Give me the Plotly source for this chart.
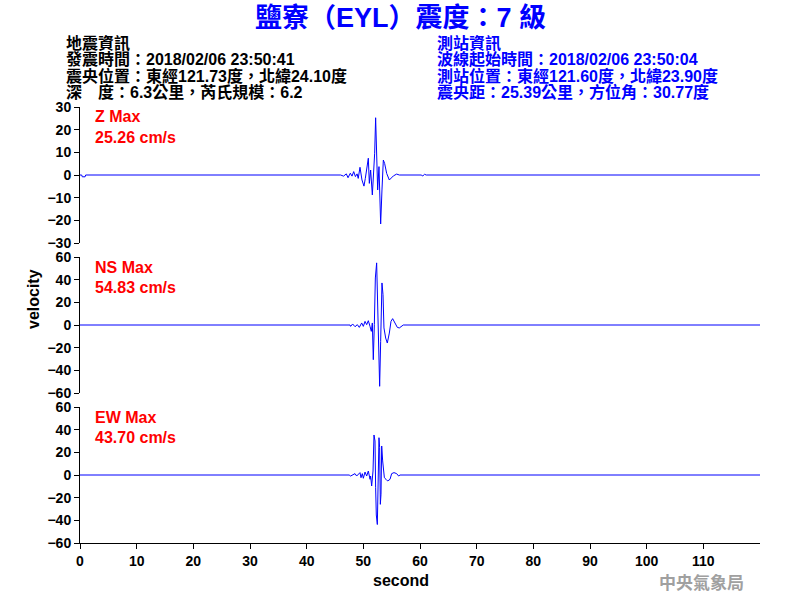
import plotly.graph_objects as go

# ---------------- data ----------------
title_text = "鹽寮（EYL）震度：7 級"
left_info = ["地震資訊",
             "發震時間：2018/02/06 23:50:41",
             "震央位置：東經121.73度，北緯24.10度",
             "深　度：6.3公里，芮氏規模：6.2"]
right_info = ["測站資訊",
              "波線起始時間：2018/02/06 23:50:04",
              "測站位置：東經121.60度，北緯23.90度",
              "震央距：25.39公里，方位角：30.77度"]

z_time = [0, 0.3, 0.4, 0.9, 1.0, 46.0, 46.5, 47.0, 47.3, 47.7, 48.0, 48.3, 48.6, 48.9, 49.1,
          49.41, 49.76, 50.11, 50.35, 50.88, 51.06, 51.29, 51.59, 51.76, 52.0, 52.17, 52.35,
          52.53, 52.76, 52.94, 53.06, 53.29, 53.53, 53.76, 54.12, 54.59, 55.3, 55.88, 56.35,
          60.2, 60.5, 60.8, 61.1, 120]
z_vel = [0, 0, -0.8, -0.8, 0, 0, -0.5, 0.5, -1.2, 0.8, -0.5, 1.5, -0.7, 0.5, -1.5,
         3.4, -2.2, -4.9, -1.5, 7.4, -3.7, 2.2, -8.8, -2.9, 9.6, 25.26, 9.6,
         -6.6, 3.7, -15.4, -21.6, -6.6, 6.6, 5.1, 0.7, -2.2, -0.4, 0.4, 0,
         0, -0.4, 0.3, 0, 0]

ns_time = [0, 47.65, 47.76, 48.11, 48.53, 48.94, 49.29, 49.71, 50.0, 50.3, 50.59, 50.88, 51.18,
           51.41, 51.59, 51.76, 51.94, 52.12, 52.35, 52.53, 52.7, 52.88, 53.06, 53.29, 53.47,
           53.64, 53.94, 54.23, 54.59, 54.88, 55.17, 55.58, 56.0, 56.35, 56.76, 57.05, 120]
ns_vel = [0, 0, -1.2, 0.9, -1.5, 0.3, -2.1, 1.8, -1.2, 3.2, 0.3, 3.8, -1.2,
          -5.6, 1.8, -30.6, 0.3, 41.5, 54.83, 20.9, -35.0, -54.1, -14.4, 37.1, 26.8,
          -2.6, -11.5, -15.9, -7.1, 3.2, 5.6, 1.8, -2.1, -2.6, -0.6, 0, 0]

ew_time = [0, 47.5, 47.76, 48.53, 48.82, 49.12, 49.41, 49.59, 49.82, 50.0, 50.3, 50.59, 50.88,
           51.18, 51.29, 51.47, 51.71, 51.88, 52.06, 52.17, 52.29, 52.47, 52.65, 52.76, 52.88,
           53.0, 53.12, 53.24, 53.41, 53.71, 54.0, 54.3, 54.71, 55.0, 55.41, 55.88, 56.23, 56.47, 120]
ew_vel = [0, 0, -0.9, 1.2, -0.9, 0.6, 2.1, -2.4, 1.2, -2.9, 2.6, -0.9, 3.5,
          -3.8, -0.9, -9.7, 3.5, 35.3, 30.0, -11.2, -35.3, -43.70, -5.3, 32.9, 24.1,
          -25.9, -17.0, 25.6, 12.4, -2.4, -3.8, -5.3, -3.8, 1.2, 2.1, 1.2, -0.9, 0, 0]

components = ["Z", "NS", "EW"]
max_labels = ["25.26 cm/s", "54.83 cm/s", "43.70 cm/s"]
y_ranges = [[-30, 30], [-60, 60], [-60, 60]]
y_dticks = [10, 20, 20]
x_tickvals = [0, 10, 20, 30, 40, 50, 60, 70, 80, 90, 100, 110]

# ---------------- figure ----------------
W, H = 800, 600
L, R, T, B = 80, 40, 107, 57
plot_w = W - L - R
plot_h = H - T - B


def px(x):
    return (x - L) / plot_w


def py(y):
    return (H - B - y) / plot_h


panel = 136 / plot_h
gap = 14 / plot_h
domains = [[1 - panel, 1], [panel + gap, 2 * panel + gap], [0, panel]]

fig = go.Figure()
series = [(z_time, z_vel), (ns_time, ns_vel), (ew_time, ew_vel)]
yaxis_names = ["y", "y2", "y3"]
for (t, v), yn in zip(series, yaxis_names):
    fig.add_trace(go.Scatter(x=t, y=v, mode="lines", yaxis=yn, xaxis="x",
                             line=dict(color="#0000ff", width=1), showlegend=False,
                             hoverinfo="skip"))

tick_font = dict(family="Liberation Sans, Arial", size=14, color="black", weight="bold")

layout = dict(
    width=W, height=H,
    margin=dict(l=L, r=R, t=T, b=B, autoexpand=False),
    paper_bgcolor="white", plot_bgcolor="white",
    showlegend=False,
    xaxis=dict(range=[0, 120], anchor="y3", tickvals=x_tickvals, showgrid=False,
               zeroline=False, showline=True, linecolor="black", linewidth=1,
               ticks="outside", ticklen=5, tickcolor="black", tickfont=tick_font,
               automargin=False),
)
for i, yn in enumerate(["yaxis", "yaxis2", "yaxis3"]):
    layout[yn] = dict(domain=domains[i], range=y_ranges[i], dtick=y_dticks[i],
                      tick0=0, anchor="x", showgrid=False, zeroline=False,
                      showline=True, linecolor="black", linewidth=1,
                      ticks="outside", ticklen=5, tickcolor="black",
                      tickfont=tick_font, automargin=False)
fig.update_layout(**layout)

ann = []
cjk = "Liberation Sans, Noto Sans CJK TC"
ann.append(dict(text=title_text, x=px(400), y=py(18), xref="paper", yref="paper",
                showarrow=False, xanchor="center", yanchor="middle",
                font=dict(family=cjk, size=27, color="#0000ff", weight="bold")))
line_ys = [43, 60, 76, 92]
for txt, yy in zip(left_info, line_ys):
    ann.append(dict(text=txt, x=px(64), y=py(yy), xref="paper", yref="paper",
                    showarrow=False, xanchor="left", yanchor="middle",
                    font=dict(family=cjk, size=16, color="black", weight="bold")))
for txt, yy in zip(right_info, line_ys):
    ann.append(dict(text=txt, x=px(435), y=py(yy), xref="paper", yref="paper",
                    showarrow=False, xanchor="left", yanchor="middle",
                    font=dict(family=cjk, size=16, color="#0000ff", weight="bold")))
label_tops = [117, 267, 417]
for comp, lab, yy in zip(components, max_labels, label_tops):
    ann.append(dict(text=comp + " Max", x=px(93), y=py(yy), xref="paper", yref="paper",
                    showarrow=False, xanchor="left", yanchor="middle",
                    font=dict(family="Liberation Sans, Arial", size=16, color="red",
                              weight="bold")))
    ann.append(dict(text=lab, x=px(93), y=py(yy + 20), xref="paper", yref="paper",
                    showarrow=False, xanchor="left", yanchor="middle",
                    font=dict(family="Liberation Sans, Arial", size=16, color="red",
                              weight="bold")))
ann.append(dict(text="velocity", x=px(33), y=py(299), xref="paper", yref="paper",
                showarrow=False, xanchor="center", yanchor="middle", textangle=-90,
                font=dict(family="Liberation Sans, Arial", size=16, color="black", weight="bold")))
ann.append(dict(text="second", x=px(401), y=py(580), xref="paper", yref="paper",
                showarrow=False, xanchor="center", yanchor="middle",
                font=dict(family="Liberation Sans, Arial", size=16, color="black", weight="bold")))
ann.append(dict(text="中央氣象局", x=px(701), y=py(581), xref="paper", yref="paper",
                showarrow=False, xanchor="center", yanchor="middle",
                font=dict(family="Noto Sans CJK TC", size=17, color="#a0a0a0", weight="bold")))
fig.update_layout(annotations=ann)

fig.write_html("out.html", config={"displayModeBar": False},
               post_script="document.body.style.margin='0';document.body.style.overflow='hidden';")
